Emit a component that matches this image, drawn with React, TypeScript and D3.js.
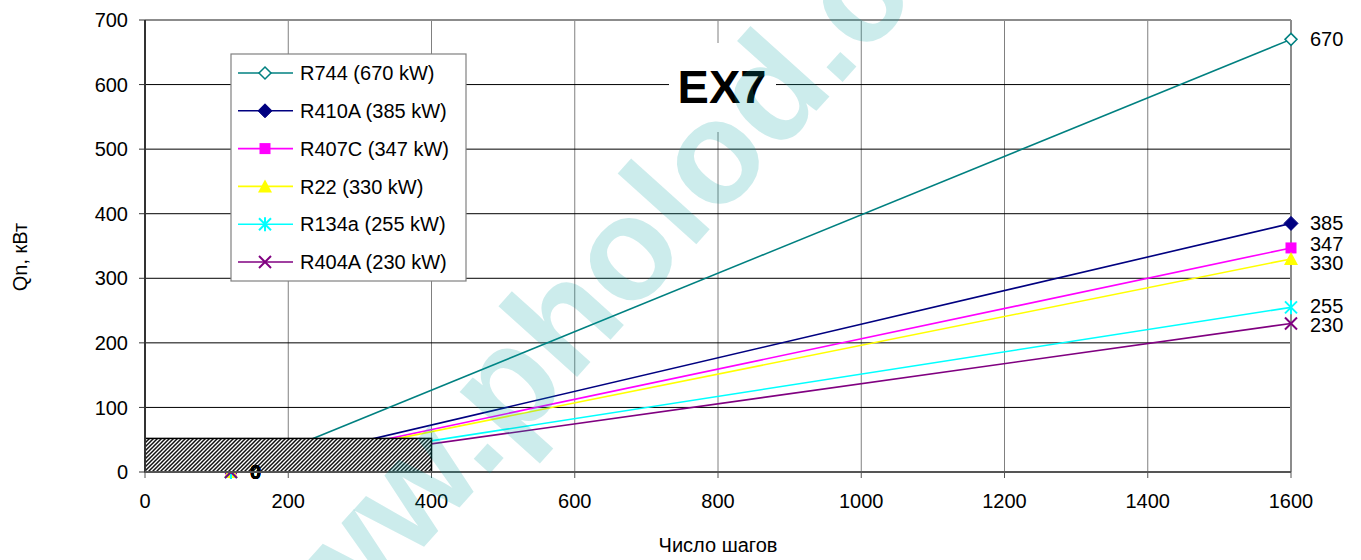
import React from 'react';
import * as d3 from 'd3';

const seriesNames = ['R744 (670 kW)', 'R410A (385 kW)', 'R407C (347 kW)', 'R22 (330 kW)', 'R134a (255 kW)', 'R404A (230 kW)'];
const startSteps = [120, 120, 120, 120, 120, 120];
const endSteps = [1600, 1600, 1600, 1600, 1600, 1600];
const startValues = [0, 0, 0, 0, 0, 0];
const endValues = [670, 385, 347, 330, 255, 230];
const seriesColors = ['#008080', '#000080', '#FF00FF', '#FFFF00', '#00FFFF', '#800080'];
const markerTypes = ['diamondOpen', 'diamond', 'square', 'triangle', 'asterisk', 'cross'];
const xTicks = [0, 200, 400, 600, 800, 1000, 1200, 1400, 1600];
const yTicks = [0, 100, 200, 300, 400, 500, 600, 700];
const zoneSteps = [0, 400];
const zoneValues = [0, 52];
const chartTitle = 'EX7';
const xTitle = 'Число шагов';
const yTitle = 'Qn, кВт';
const watermark = 'www.pholod.com';

const W = 1361, H = 560;
const L = 145, R = 1291, T = 20, B = 472;
const FONT = '"Liberation Sans", Arial, sans-serif';

const x = d3.scaleLinear().domain([0, 1600]).range([L, R]);
const y = d3.scaleLinear().domain([0, 700]).range([B, T]);

function Marker({ type, cx, cy, color }: { type: string; cx: number; cy: number; color: string }) {
  const s = 6;
  switch (type) {
    case 'diamondOpen':
      return <path d={`M${cx},${cy - s} L${cx + s},${cy} L${cx},${cy + s} L${cx - s},${cy} Z`} fill="white" stroke={color} strokeWidth={1.5} />;
    case 'diamond':
      return <path d={`M${cx},${cy - s - 1} L${cx + s + 1},${cy} L${cx},${cy + s + 1} L${cx - s - 1},${cy} Z`} fill={color} stroke={color} strokeWidth={1} />;
    case 'square':
      return <rect x={cx - 5.5} y={cy - 5.5} width={11} height={11} fill={color} />;
    case 'triangle':
      return <path d={`M${cx},${cy - 7} L${cx + 7},${cy + 6} L${cx - 7},${cy + 6} Z`} fill={color} />;
    case 'asterisk':
      return (
        <g stroke={color} strokeWidth={2}>
          <line x1={cx - 6} y1={cy - 6} x2={cx + 6} y2={cy + 6} />
          <line x1={cx - 6} y1={cy + 6} x2={cx + 6} y2={cy - 6} />
          <line x1={cx} y1={cy - 7} x2={cx} y2={cy + 7} />
        </g>
      );
    case 'cross':
      return (
        <g stroke={color} strokeWidth={2}>
          <line x1={cx - 6} y1={cy - 6} x2={cx + 6} y2={cy + 6} />
          <line x1={cx - 6} y1={cy + 6} x2={cx + 6} y2={cy - 6} />
        </g>
      );
    default:
      return null;
  }
}

function resolveLabels(ys: number[], gap: number): number[] {
  const idx = ys.map((v, i) => i).sort((a, b) => ys[a] - ys[b]);
  const pos = ys.slice();
  for (let iter = 0; iter < 50; iter++) {
    let moved = false;
    for (let k = 1; k < idx.length; k++) {
      const a = idx[k - 1], b = idx[k];
      const d = pos[b] - pos[a];
      if (d < gap) {
        const m = (gap - d) / 2;
        pos[a] -= m;
        pos[b] += m;
        moved = true;
      }
    }
    if (!moved) break;
  }
  return pos;
}

export default function App() {
  const line = d3.line<[number, number]>().x(d => x(d[0])).y(d => y(d[1]));
  const endYs = endValues.map(v => y(v));
  const labelYs = resolveLabels(endYs, 19.5);
  const legendX = 231, legendY = 54, legendW = 235, legendH = 227;
  const legendRow = 37.8;

  return (
    <svg width={W} height={H} style={{ position: 'absolute', left: 0, top: 0, background: 'white' }} fontFamily={FONT}>
      <defs>
        <pattern id="hatch" width={4} height={4} patternUnits="userSpaceOnUse">
          <rect width={4} height={4} fill="#ffffff" />
          <path d="M-1,1 l2,-2 M0,4 l4,-4 M3,5 l2,-2" stroke="#111" strokeWidth={1.5} />
        </pattern>
        <clipPath id="plotclip">
          <rect x={0} y={0} width={W} height={480} />
        </clipPath>
      </defs>
      <rect width={W} height={H} fill="white" />

      {/* vertical grid */}
      {xTicks.filter(t => t > 0 && t < 1600).map(t => (
        <line key={'vx' + t} x1={x(t)} x2={x(t)} y1={T} y2={B} stroke="#808080" strokeWidth={1} />
      ))}
      {/* horizontal grid */}
      {yTicks.filter(t => t > 0 && t < 700).map(t => (
        <line key={'hy' + t} x1={L} x2={R} y1={y(t)} y2={y(t)} stroke="#000" strokeWidth={1} />
      ))}
      {/* top and right border */}
      <line x1={L} x2={R} y1={T} y2={T} stroke="#8c8c8c" strokeWidth={2} />
      <line x1={R} x2={R} y1={T} y2={B} stroke="#8c8c8c" strokeWidth={2} />

      {/* title box */}
      <rect x={669} y={43} width={107} height={89} fill="white" />
      <text x={722} y={103} textAnchor="middle" fontSize={47} fontWeight="bold" fill="#000">{chartTitle}</text>

      {/* series */}
      <g clipPath="url(#plotclip)">
        {seriesNames.map((n, i) => (
          <path key={'l' + i} d={line([[startSteps[i], startValues[i]], [endSteps[i], endValues[i]]]) || ''} fill="none" stroke={seriesColors[i]} strokeWidth={1.6} />
        ))}
        {seriesNames.map((n, i) => (
          <g key={'m' + i}>
            <Marker type={markerTypes[i]} cx={x(startSteps[i])} cy={y(startValues[i])} color={seriesColors[i]} />
            <Marker type={markerTypes[i]} cx={x(endSteps[i])} cy={y(endValues[i])} color={seriesColors[i]} />
          </g>
        ))}
        {/* hatched zone */}
        <rect x={x(zoneSteps[0])} y={y(zoneValues[1])} width={x(zoneSteps[1]) - x(zoneSteps[0])} height={y(zoneValues[0]) - y(zoneValues[1])} fill="url(#hatch)" stroke="#000" strokeWidth={1.5} />
        {seriesNames.map((n, i) => (
          <text key={'z' + i} x={x(startSteps[i]) + 19} y={y(startValues[i]) + 7} fontSize={20} fontWeight="bold" fill="#000">{startValues[i]}</text>
        ))}
      </g>

      {/* end labels */}
      {seriesNames.map((n, i) => (
        <text key={'el' + i} x={x(endSteps[i]) + 19} y={labelYs[i]} dy="0.35em" fontSize={20} fill="#000">{endValues[i]}</text>
      ))}

      {/* axes */}
      <line x1={L} x2={L} y1={T} y2={B} stroke="#333" strokeWidth={2} />
      <line x1={L} x2={R} y1={B} y2={B} stroke="#555" strokeWidth={2} />
      {yTicks.map(t => (
        <g key={'yt' + t}>
          <line x1={L - 6} x2={L} y1={y(t)} y2={y(t)} stroke="#333" strokeWidth={1} />
          <text x={L - 17} y={y(t)} dy="0.36em" textAnchor="end" fontSize={20} fill="#000">{t}</text>
        </g>
      ))}
      {xTicks.map(t => (
        <g key={'xt' + t}>
          <line x1={x(t)} x2={x(t)} y1={B} y2={B + 6} stroke="#555" strokeWidth={1} />
          <text x={x(t)} y={B + 36} textAnchor="middle" fontSize={20} fill="#000">{t}</text>
        </g>
      ))}
      <text x={718} y={552} textAnchor="middle" fontSize={20} fill="#000">{xTitle}</text>
      <text transform={`translate(27,257) rotate(-90)`} textAnchor="middle" fontSize={20} fill="#000">{yTitle}</text>

      {/* legend */}
      <rect x={legendX} y={legendY} width={legendW} height={legendH} fill="white" stroke="#808080" strokeWidth={1.2} />
      {seriesNames.map((n, i) => {
        const cy = legendY + 19 + i * legendRow;
        return (
          <g key={'lg' + i}>
            <line x1={legendX + 7} x2={legendX + 62} y1={cy} y2={cy} stroke={seriesColors[i]} strokeWidth={1.6} />
            <Marker type={markerTypes[i]} cx={legendX + 34} cy={cy} color={seriesColors[i]} />
            <text x={legendX + 69} y={cy} dy="0.36em" fontSize={20} fill="#000">{n}</text>
          </g>
        );
      })}

      {/* watermark */}
      <text transform="translate(259,730) rotate(-48)" fontSize={146} fontWeight="bold" fill="#00a0a0" fillOpacity={0.2}>{watermark}</text>
    </svg>
  );
}
